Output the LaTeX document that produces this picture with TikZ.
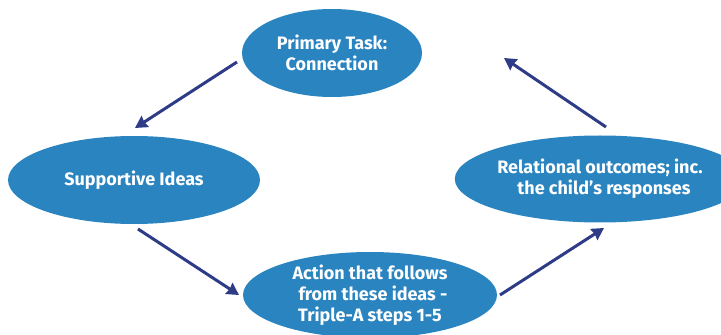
\documentclass[tikz,border=0pt]{standalone}
\usepackage{fontspec}
\setmainfont{Fira Sans}
\usetikzlibrary{arrows.meta,shapes.geometric}
\definecolor{ovalblue}{HTML}{2A84C0}
\definecolor{arrownavy}{HTML}{2E3B87}
\tikzset{
  oval/.style={ellipse, fill=ovalblue, inner sep=0pt, text=white,
    font=\bfseries\fontsize{18}{21}\selectfont, align=center},
  flow/.style={draw=arrownavy, line width=3pt,
    -{Stealth[length=12pt,width=13pt,inset=1pt]}}
}
\begin{document}
\begin{tikzpicture}[x=1pt,y=1pt]
\useasboundingbox (0,0) rectangle (721,335);
% four stages of the cycle
\node[oval, minimum width=180pt, minimum height=88pt] (task) at (332,282) {Primary Task:\\Connection};
\node[oval, minimum width=252pt, minimum height=88pt] (ideas) at (134,155) {Supportive Ideas};
\node[oval, minimum width=242pt, minimum height=87pt] (outcome) at (600,156) {Relational outcomes; inc.\\\hspace*{8pt}the child’s responses};
\node[oval, minimum width=254pt, minimum height=86pt] (action) at (370,40) {Action that follows\\\hspace*{6pt}from these ideas -\\Triple-A steps 1-5};
% arrow end points in the gaps between the ovals
\coordinate (a1s) at (237,273);
\coordinate (a1e) at (135,207);
\coordinate (a2s) at (138,106);
\coordinate (a2e) at (239,40);
\coordinate (a3s) at (500,40);
\coordinate (a3e) at (604,107);
\coordinate (a4s) at (606,208);
\coordinate (a4e) at (504,277);
\draw[flow] (a1s) -- (a1e);
\draw[flow] (a2s) -- (a2e);
\draw[flow] (a3s) -- (a3e);
\draw[flow] (a4s) -- (a4e);
\end{tikzpicture}
\end{document}
